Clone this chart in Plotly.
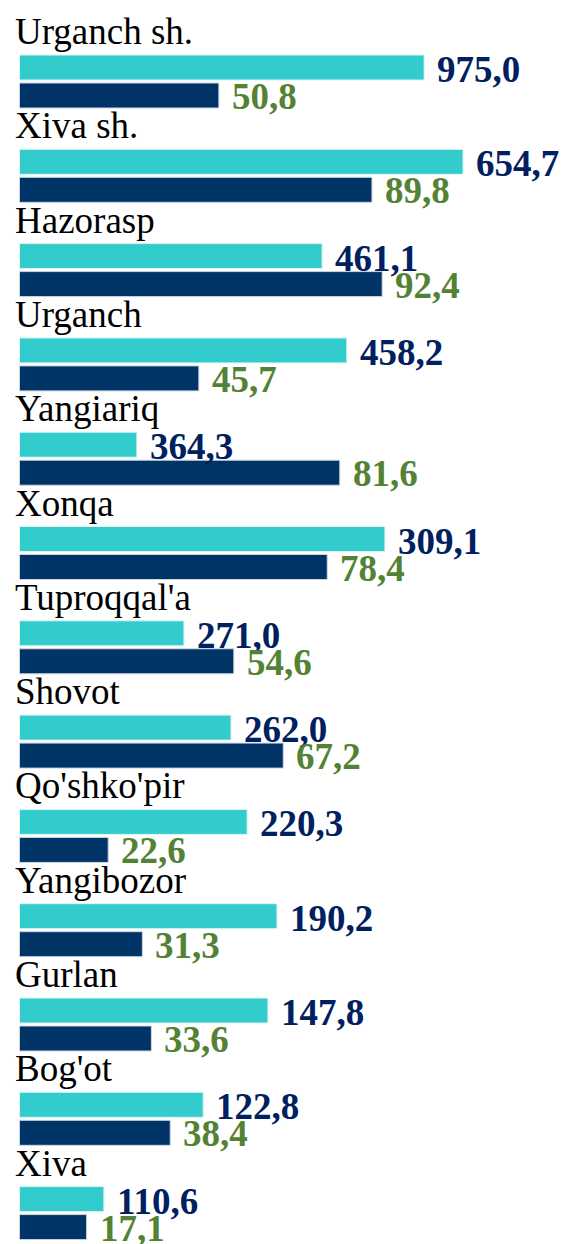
import plotly.graph_objects as go

categories = ["Urganch sh.", "Xiva sh.", "Hazorasp", "Urganch", "Yangiariq", "Xonqa",
              "Tuproqqal'a", "Shovot", "Qo'shko'pir", "Yangibozor", "Gurlan", "Bog'ot", "Xiva"]
# bar lengths of the light (cyan) series (same axis units as the dark series)
cyan_lengths = [103.1, 113.0, 77.1, 83.4, 29.9, 93.1, 41.9, 53.9, 58.0, 65.6, 63.3, 46.8, 21.5]
# printed labels of the cyan series
cyan_labels = ["975,0", "654,7", "461,1", "458,2", "364,3", "309,1", "271,0",
               "262,0", "220,3", "190,2", "147,8", "122,8", "110,6"]
# dark series values (bar length == printed value)
navy_values = [50.8, 89.8, 92.4, 45.7, 81.6, 78.4, 54.6, 67.2, 22.6, 31.3, 33.6, 38.4, 17.1]

CYAN = "#33CCCC"
NAVY = "#003366"
LBL_NAVY = "#002060"
LBL_GREEN = "#548235"
FONT = "Liberation Serif"

PITCH = 94.3          # px per category
BAR_H = 25 / PITCH    # bar thickness in axis units
GAP = 3 / PITCH

n = len(categories)
idx = list(range(n))
cyan_y = [i + BAR_H / 2 for i in idx]
navy_y = [i + BAR_H + GAP + BAR_H / 2 for i in idx]

fig = go.Figure()
fig.add_trace(go.Bar(y=cyan_y, x=cyan_lengths, orientation="h", width=BAR_H,
                     marker=dict(color=CYAN, line=dict(color="#DDF5F5", width=1)),
                     hoverinfo="skip"))
fig.add_trace(go.Bar(y=navy_y, x=navy_values, orientation="h", width=BAR_H,
                     marker=dict(color=NAVY, line=dict(color="#CCD6E0", width=1)),
                     hoverinfo="skip"))

ann = []
for i in idx:
    ann.append(dict(x=cyan_lengths[i], y=cyan_y[i], text=f"<b>{cyan_labels[i]}</b>",
                    xanchor="left", yanchor="middle", xshift=11, yshift=-2, showarrow=False,
                    font=dict(family=FONT, size=37, color=LBL_NAVY)))
    ann.append(dict(x=navy_values[i], y=navy_y[i],
                    text="<b>" + f"{navy_values[i]:.1f}".replace(".", ",") + "</b>",
                    xanchor="left", yanchor="middle", xshift=11, yshift=-1, showarrow=False,
                    font=dict(family=FONT, size=37, color=LBL_GREEN)))
    ann.append(dict(x=0, y=i, text=categories[i], xanchor="left", yanchor="bottom",
                    xshift=-7, yshift=1, showarrow=False,
                    font=dict(family=FONT, size=37, color="#000000")))

X0 = 19.5 / 3.925
fig.update_layout(
    width=565, height=1244,
    margin=dict(l=0, r=0, t=0, b=0),
    paper_bgcolor="white", plot_bgcolor="white",
    showlegend=False,
    barmode="overlay",
    annotations=ann,
    xaxis=dict(range=[-X0, (565 - 19.5) / 3.925], visible=False, fixedrange=True),
    yaxis=dict(range=[(1244 - 55) / PITCH, -55 / PITCH], visible=False, fixedrange=True),
)
fig.write_html("out.html", config={"displayModeBar": False},
               post_script="document.body.style.margin='0px';document.body.style.overflow='hidden';")
